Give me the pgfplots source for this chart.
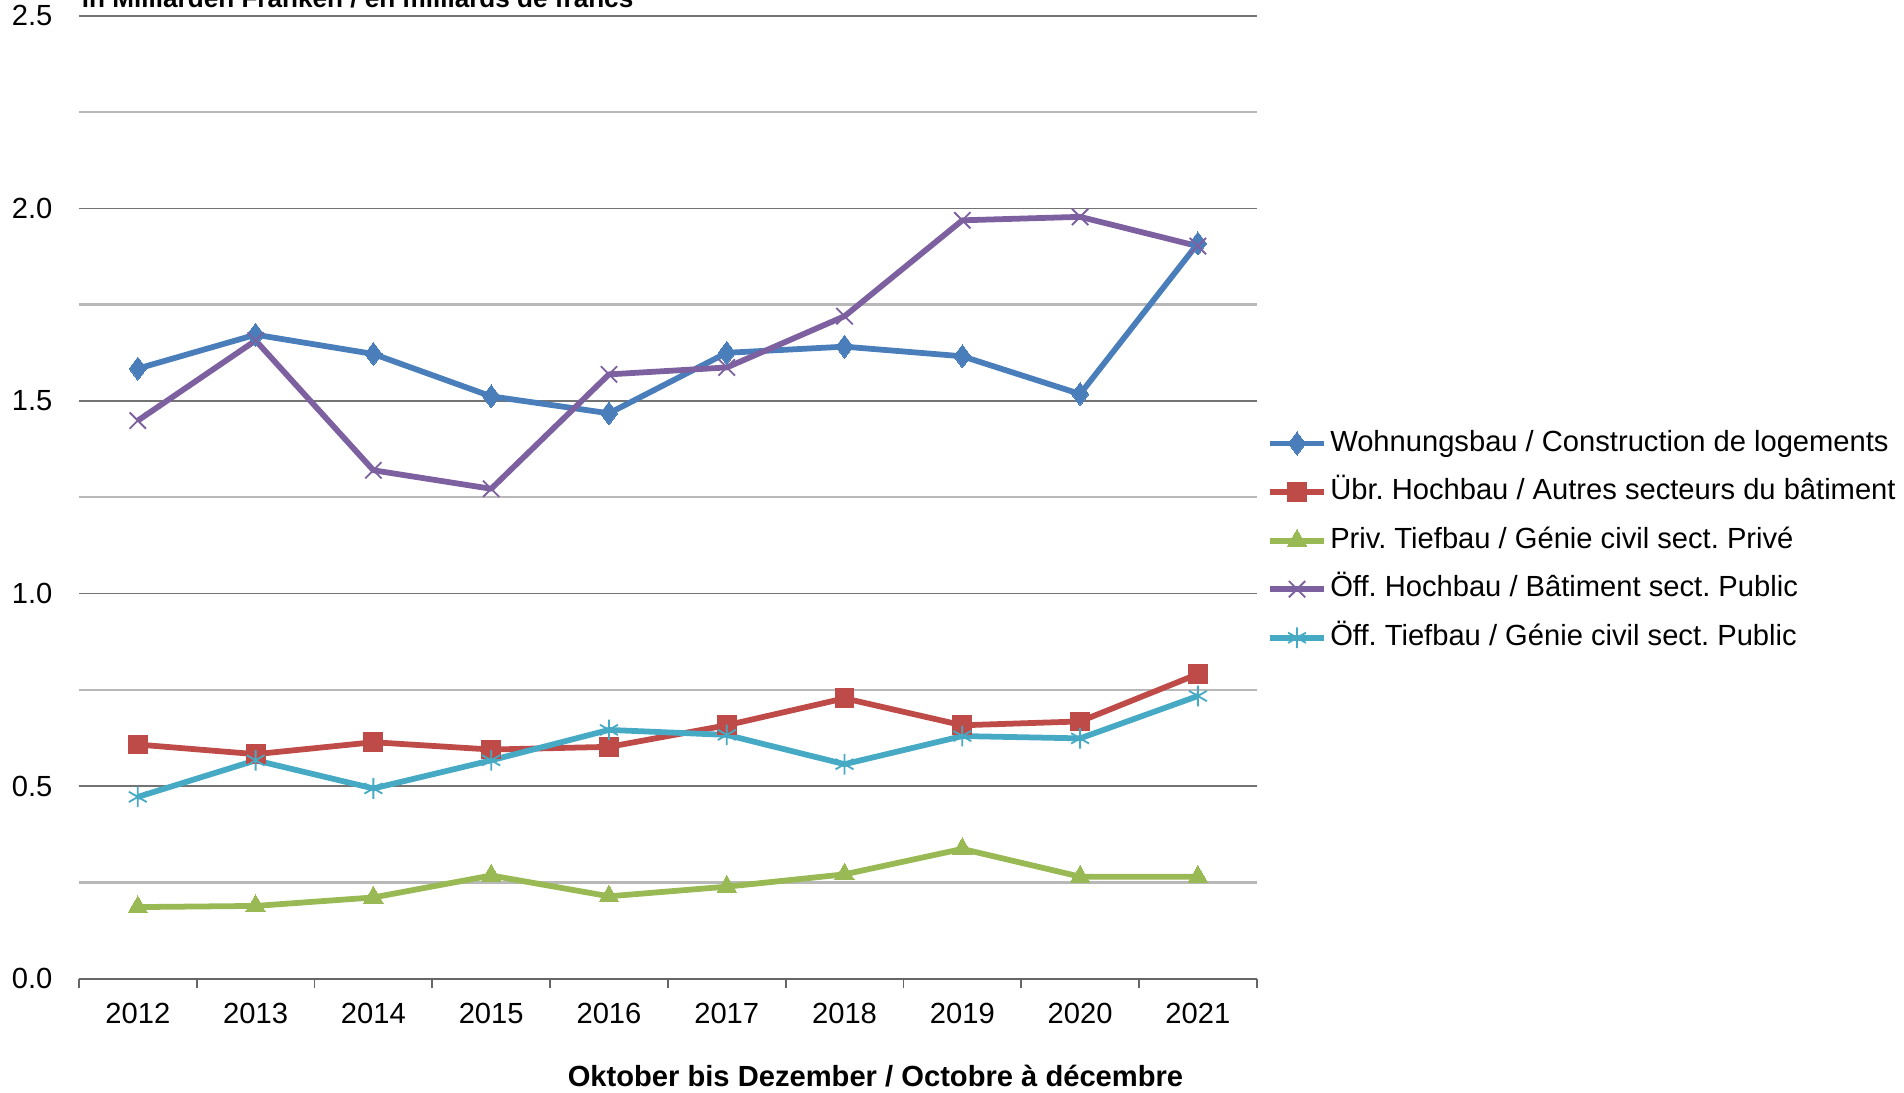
\documentclass[border=0pt]{standalone}
\usepackage{pgfplots}
\pgfplotsset{compat=1.18}
\usepackage{fontspec}
\setmainfont{Liberation Sans}
\definecolor{cblue}{HTML}{4A7EBB}
\definecolor{cred}{HTML}{BE4B48}
\definecolor{cgreen}{HTML}{98B954}
\definecolor{cpurple}{HTML}{7D60A0}
\definecolor{ccyan}{HTML}{46AAC5}
\frenchspacing
\begin{document}
\begin{tikzpicture}[font=\fontsize{9.6}{11.5}\selectfont]
\begin{axis}[
  at={(26pt,37.6pt)}, anchor=south west,
  width=388pt, height=317.2pt, scale only axis,
  xmin=-0.5, xmax=9.5, ymin=0, ymax=2.5,
  axis x line*=bottom, axis y line*=left,
  y axis line style={draw=none},
  x axis line style={draw=black!60, line width=0.6pt, -},
  xtick={0,1,2,3,4,5,6,7,8,9},
  xticklabels={2012,2013,2014,2015,2016,2017,2018,2019,2020,2021},
  minor xtick={-0.5,0.5,1.5,2.5,3.5,4.5,5.5,6.5,7.5,8.5,9.5},
  ytick={0,0.5,1,1.5,2,2.5},
  minor ytick={0.25,0.75,1.25,1.75,2.25},
  major tick length=0pt, minor tick length=3.2pt, tick align=outside,
  every minor y tick/.append style={draw=none},
  every minor x tick/.append style={draw=black!60, line width=0.6pt},
  ymajorgrids, yminorgrids,
  major grid style={draw=black!55, line width=0.5pt},
  minor grid style={draw=black!28, line width=0.8pt},
  /pgf/number format/assume math mode=true,
  yticklabel style={/pgf/number format/fixed, /pgf/number format/fixed zerofill, /pgf/number format/precision=1, xshift=-5.2pt},
  xticklabel style={yshift=-4.4pt},
  every axis plot/.append style={line width=1.9pt, line join=round},
  legend style={at={(1.008,0.5738)}, anchor=north west, draw=none, fill=none, inner sep=0pt, row sep=5pt,
    cells={anchor=west}, nodes={inner sep=1pt, text height=7pt, text depth=2pt},
    /tikz/every even column/.append style={column sep=1pt}},
  legend image code/.code={\draw[mark repeat=2, mark phase=2] plot coordinates {(0pt,0pt) (9pt,0pt) (18pt,0pt)};},
]
\addplot[color=cblue, mark=diamond*, mark size=3.8pt, mark options={solid, line width=0pt}] coordinates {
(0,1.584) (1,1.672) (2,1.622) (3,1.512) (4,1.468) (5,1.625) (6,1.641) (7,1.616) (8,1.518) (9,1.909)};
\addlegendentry{Wohnungsbau / Construction de logements}
\addplot[color=cred, mark=square*, mark size=3.1pt, mark options={solid, line width=0pt}] coordinates {
(0,0.608) (1,0.583) (2,0.614) (3,0.595) (4,0.602) (5,0.658) (6,0.728) (7,0.658) (8,0.668) (9,0.791)};
\addlegendentry{Übr. Hochbau / Autres secteurs du bâtiment}
\addplot[color=cgreen, mark=triangle*, mark size=3.7pt, mark options={solid, line width=0pt}] coordinates {
(0,0.186) (1,0.189) (2,0.211) (3,0.268) (4,0.214) (5,0.239) (6,0.271) (7,0.337) (8,0.265) (9,0.265)};
\addlegendentry{Priv. Tiefbau / Génie civil sect. Privé}
\addplot[color=cpurple, mark=x, mark size=3.8pt, mark options={solid, line width=0.6pt}] coordinates {
(0,1.449) (1,1.657) (2,1.320) (3,1.272) (4,1.569) (5,1.587) (6,1.720) (7,1.969) (8,1.978) (9,1.902)};
\addlegendentry{Öff. Hochbau / Bâtiment sect. Public}
\addplot[color=ccyan, mark=asterisk, mark size=3.4pt, mark options={solid, line width=0.6pt}] coordinates {
(0,0.472) (1,0.567) (2,0.494) (3,0.567) (4,0.646) (5,0.633) (6,0.557) (7,0.630) (8,0.624) (9,0.734)};
\addlegendentry{Öff. Tiefbau / Génie civil sect. Public}
\end{axis}
\node[anchor=base west, inner sep=0pt, font=\fontsize{8.6}{10}\selectfont\bfseries] at (26.8pt,357.5pt) {in Milliarden Franken / en milliards de francs};
\node[anchor=base, font=\fontsize{9.6}{11.5}\selectfont\bfseries] at (288.4pt,2pt) {Oktober bis Dezember / Octobre à décembre};
\pgfresetboundingbox
\useasboundingbox (0,0) rectangle (627.2pt,360pt);
\end{tikzpicture}
\end{document}
